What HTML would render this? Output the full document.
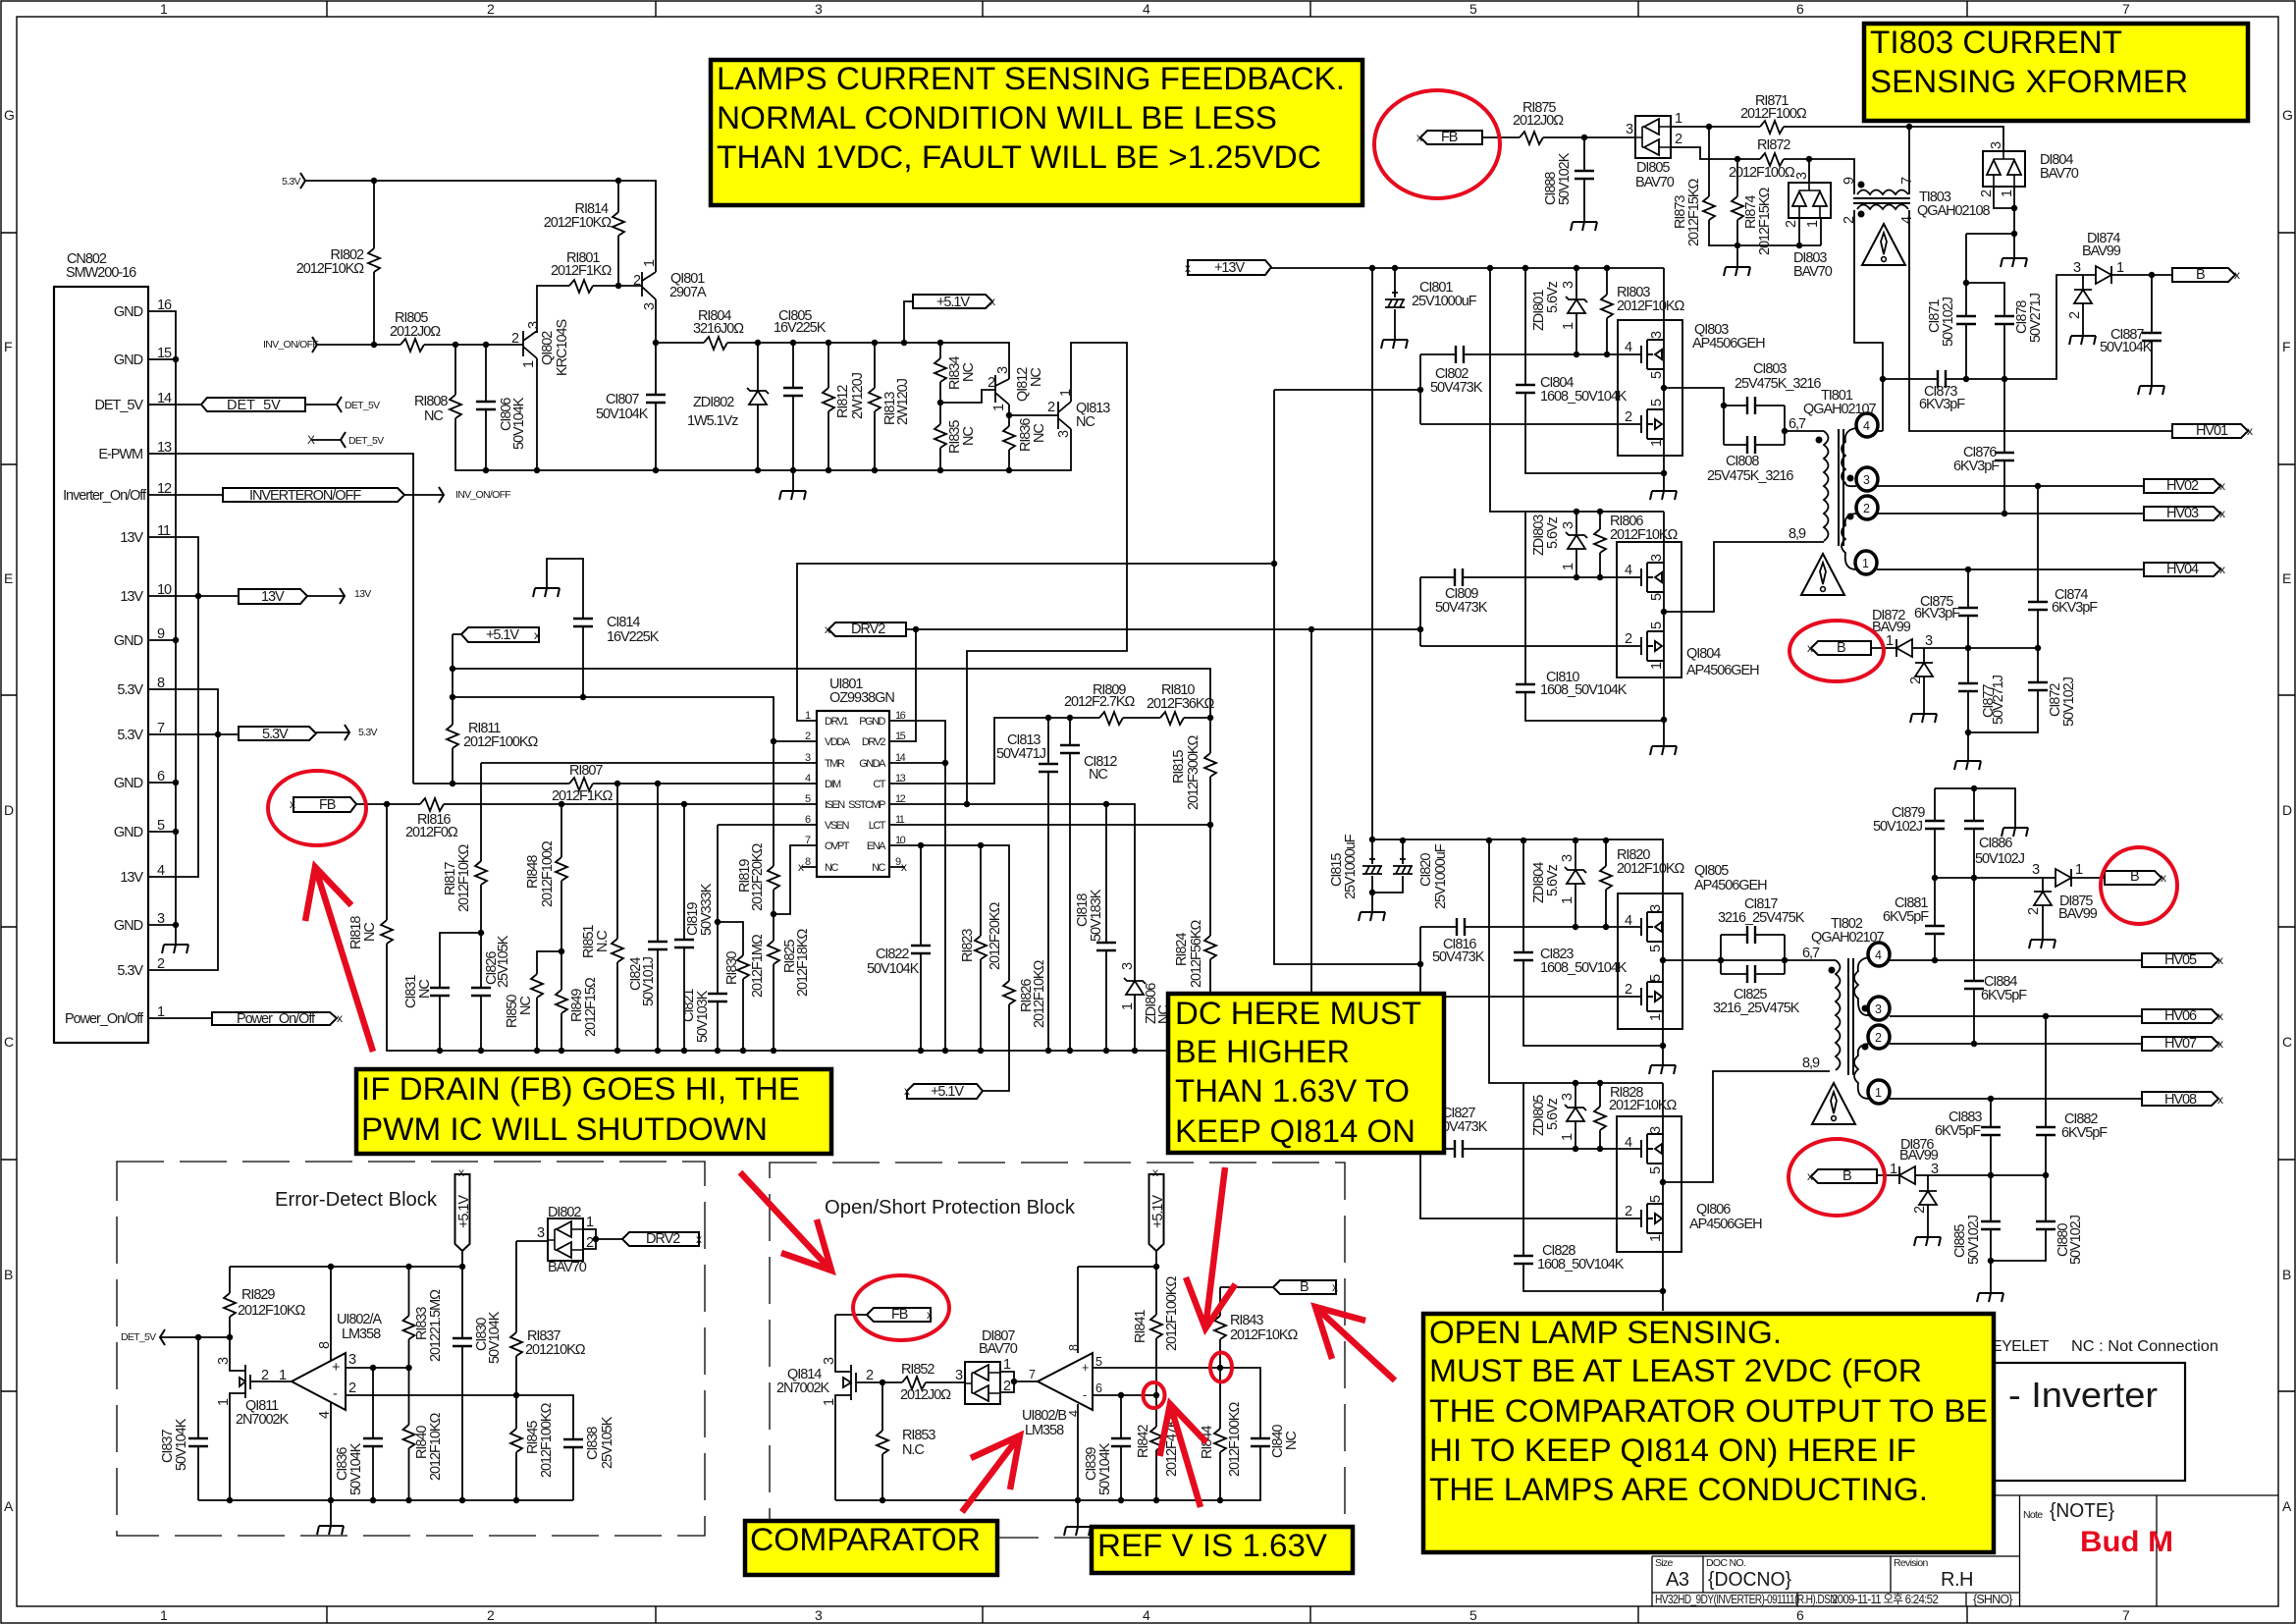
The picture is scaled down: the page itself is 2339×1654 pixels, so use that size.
<!DOCTYPE html>
<html><head><meta charset="utf-8"><title>Inverter schematic</title>
<style>
html,body{margin:0;padding:0;background:#fff}
svg{display:block}
text{font-family:"Liberation Sans","Noto Sans CJK KR",sans-serif;font-size:14.5px;letter-spacing:-1.05px;fill:#181818}
.s{font-size:10.5px;letter-spacing:-.7px}
.p{font-size:12.5px;letter-spacing:-.8px}
.i{font-size:11px;letter-spacing:-1.5px}
.n{font-size:14px;letter-spacing:-.3px}
.e{text-anchor:end}
.b{font-size:32px;letter-spacing:0;fill:#000}
.y{fill:#ff0;stroke:#000;stroke-width:4.5}
.f{fill:#fff;stroke:#000;stroke-width:2}
.w{fill:none;stroke:#000;stroke-width:1.8}
.red{fill:none;stroke:#e60a1e;stroke-width:4}
.arr{fill:none;stroke:#e60a1e;stroke-width:6.5}
.x{font-size:12px;letter-spacing:0}
</style></head><body>
<svg xmlns="http://www.w3.org/2000/svg" width="2339" height="1654" viewBox="0 0 2339 1654">
<defs>
<g id="r"><path d="M0-12V12" stroke="#fff" stroke-width="4"/><path d="M0-12L-6-7 6-2-6 3 6 8 0 12" fill="none" stroke="#000" stroke-width="1.8"/></g>
<g id="rh"><path d="M-12 0H12" stroke="#fff" stroke-width="4"/><path d="M-12 0L-7-6-2 7 3-6 8 7 12 0" fill="none" stroke="#000" stroke-width="1.8"/></g>
<g id="c"><path d="M0-3V3" stroke="#fff" stroke-width="4"/><path d="M-10-4H10M-10 4H10" stroke="#000" stroke-width="2.4"/></g>
<g id="ch"><path d="M-3 0H3" stroke="#fff" stroke-width="4"/><path d="M-4-9V9M4-9V9" stroke="#000" stroke-width="2.4"/></g>
<path id="g" d="M-12 0H13M-12 0L-14 9M0 0L-2 9M13 0L11 9" fill="none" stroke="#000" stroke-width="2"/>
<g id="e"><path d="M0-6V6" stroke="#fff" stroke-width="4"/><path d="M-10-4H10M-10 4H10M-7 4L-3-4M-1 4L3-4M5 4L9-4M0-14V-8M-3-11H3" fill="none" stroke="#000" stroke-width="1.8"/></g>
<g id="z"><path d="M0-7V7" stroke="#fff" stroke-width="4"/><path d="M-9 7H9L0-7ZM-11-10L-8-7H8L11-4" fill="#fff" stroke="#000" stroke-width="1.8"/></g>
<g id="du"><path d="M-9 7H9L0-7ZM-9-7H9" fill="#fff" stroke="#000" stroke-width="1.8"/></g>
<g id="dr"><path d="M-8-9V9L8 0ZM8-9V9" fill="#fff" stroke="#000" stroke-width="1.8"/></g>
<g id="dl"><path d="M8-9V9L-8 0ZM-8-9V9" fill="#fff" stroke="#000" stroke-width="1.8"/></g>
<g id="dbox"><path d="M0 0H36V43H0Z" fill="#fff" stroke="#000" stroke-width="2"/><path d="M0 22H7M7 11V32M7 11H36M7 32H36" fill="none" stroke="#000" stroke-width="1.6"/><path d="M24 3L9 11 24 19ZM24 24L9 32 24 40Z" fill="#fff" stroke="#000" stroke-width="1.8"/></g>
<g id="vbox"><path d="M0 0H43V36H0Z" fill="#fff" stroke="#000" stroke-width="2"/><path d="M21 0V8M11 8H32M11 8V36M32 8V36" fill="none" stroke="#000" stroke-width="1.6"/><path d="M4 24H18L11 9ZM25 24H39L32 9Z" fill="#fff" stroke="#000" stroke-width="1.8"/></g>
<path id="m1" d="M0-9V9M6-15V15M6-15H23M6 15H23M6 0H12M14 0L21-5V5Z" fill="none" stroke="#000" stroke-width="1.9"/>
<path id="m2" d="M0-9V9M6-15V15M6-15H23M6 15H23M6 0H12M21 0L14-5V5Z" fill="none" stroke="#000" stroke-width="1.9"/>
<path id="ca" d="M-5-8L0 0-5 8" fill="none" stroke="#000" stroke-width="2"/>
<path id="cb" d="M5-8L0 0 5 8" fill="none" stroke="#000" stroke-width="2"/>
<g id="warn"><path d="M0 0L22 42H-22Z" fill="#fff" stroke="#000" stroke-width="2"/><path d="M0 9L-3 18 0 31 3 18Z" fill="#fff" stroke="#000" stroke-width="1.8"/><circle cy="36" r="2.4" fill="#fff" stroke="#000" stroke-width="1.6"/></g>
</defs>

<!-- sheet frame -->
<g fill="none" stroke="#000" stroke-width="1.4">
<rect x="1" y="1" width="2337" height="1652"/>
<rect x="17" y="17" width="2304" height="1619"/>
<path d="M333 1V17M668 1V17M1001 1V17M1335 1V17M1669 1V17M2004 1V17M333 1636V1653M668 1636V1653M1001 1636V1653M1335 1636V1653M1669 1636V1653M2004 1636V1653M1 237H17M1 473H17M1 708H17M1 944H17M1 1181H17M1 1417H17M2321 237H2338M2321 473H2338M2321 708H2338M2321 944H2338M2321 1181H2338M2321 1417H2338"/>
</g>
<g class="n">
<text class="n" x="163" y="14">1</text><text class="n" x="496" y="14">2</text><text class="n" x="830" y="14">3</text><text class="n" x="1164" y="14">4</text><text class="n" x="1497" y="14">5</text><text class="n" x="1830" y="14">6</text><text class="n" x="2162" y="14">7</text>
<text class="n" x="163" y="1650">1</text><text class="n" x="496" y="1650">2</text><text class="n" x="830" y="1650">3</text><text class="n" x="1164" y="1650">4</text><text class="n" x="1497" y="1650">5</text><text class="n" x="1830" y="1650">6</text><text class="n" x="2162" y="1650">7</text>
<text class="n" x="4" y="122">G</text><text class="n" x="4" y="358">F</text><text class="n" x="4" y="594">E</text><text class="n" x="4" y="830">D</text><text class="n" x="4" y="1066">C</text><text class="n" x="4" y="1303">B</text><text class="n" x="4" y="1539">A</text>
<text class="n" x="2325" y="122">G</text><text class="n" x="2325" y="358">F</text><text class="n" x="2325" y="594">E</text><text class="n" x="2325" y="830">D</text><text class="n" x="2325" y="1066">C</text><text class="n" x="2325" y="1303">B</text><text class="n" x="2325" y="1539">A</text>
</g>

<!-- title block (mostly under the OPEN box) -->
<g fill="none" stroke="#000">
<rect x="1600" y="1388" width="626" height="120" stroke-width="2.2"/>
<path stroke-width="1.3" d="M1683 1523H2321M2057.500 1523V1636M2197 1523V1636M1683 1585H2057M1683 1622H2057M1683 1585V1636M1735 1585V1622M1926 1585V1622M1831 1622V1636M2003 1622V1636"/>
</g>
<text x="2029" y="1376" style="font-size:16px;letter-spacing:-.6px">EYELET</text>
<text x="2110" y="1376" textLength="150" lengthAdjust="spacingAndGlyphs" style="font-size:16px;letter-spacing:0">NC : Not Connection</text>
<text x="2046" y="1433" textLength="152" lengthAdjust="spacingAndGlyphs" style="font-size:36px;letter-spacing:0">- Inverter</text>
<text class="s" x="1686" y="1595">Size</text><text x="1697" y="1615" style="font-size:20px;letter-spacing:-.5px">A3</text>
<text class="s" x="1738" y="1595">DOC NO.</text><text x="1740" y="1615" textLength="85" lengthAdjust="spacingAndGlyphs" style="font-size:20px;letter-spacing:0">{DOCNO}</text>
<text class="s" x="1929" y="1595">Revision</text><text x="1977" y="1615" style="font-size:20px;letter-spacing:-.5px">R.H</text>
<text class="p" x="1686" y="1633" textLength="185" lengthAdjust="spacingAndGlyphs">HV32HD_9DY(INVERTER)-091111(R.H).DSN</text>
<text class="p" x="1866" y="1633" textLength="108" lengthAdjust="spacingAndGlyphs">2009-11-11 오후 6:24:52</text>
<text class="p" x="2010" y="1633">{SHNO}</text>
<text class="s" x="2061" y="1546">Note</text><text x="2088" y="1545" textLength="66" lengthAdjust="spacingAndGlyphs" style="font-size:20px;letter-spacing:0">{NOTE}</text>
<text x="2119" y="1580" textLength="95" lengthAdjust="spacingAndGlyphs" style="font-size:30px;font-weight:bold;letter-spacing:0;fill:#e60a1e">Bud M</text>

<!-- dashed blocks -->
<g fill="none" stroke="#000" stroke-width="1.3" stroke-dasharray="48 16">
<rect x="119" y="1183" width="599" height="381"/>
<rect x="784" y="1184" width="586" height="382"/>
</g>

<!-- wires -->
<path class="w" d="M311 184H668V277M381 184V351M323 351H533M630 184V291M547 339V291H654M464 351V479H1091V437M495 351V479M547 365V479M668 305V479M668 349H1028V386M772 349V479M808 349V500M844 349V479M891 349V479M958 349V479M921 349V307H930M958 410H1000V397H1014M1028 412V479M1028 423H1078M1091 409V349H1148V663H985V819
M533 337V363M533 347L547 337M533 353L547 365M654 277V302M654 286L668 277M654 292L668 305M1014 382V410M1014 393L1028 386M1014 400L1028 412M1078 409V437M1078 420L1091 409M1078 426L1091 437
M151 317H179V942M151 366H179M151 412H205M311 412H343M317 448H347M151 462H421V798M151 504H227M412 504H452M151 547H202V893H151M151 607H243M313 607H351M151 652H179M151 702H222V988H151M151 748H243M322 746H356M151 797H179M151 847H179M151 942H179V962M151 1037H216
M461 646V798M470 646H461M421 798H832M461 710H788V1070M461 681H1233V1111M490 777H832M490 777V1070M490 950H448V1070M363 819H832M394 819V1070H1190M572 819V1070M572 969H547V1070M629 798V1070M670 798V1070M697 819V1070M731 840V1070M731 840H832M731 939H757V1070M788 755H832M788 931H805V861H832M594 710V569H557V599
M832 734H812V574H1298M906 734H963V1070M906 755H933V641M923 641H1447M906 777H963M906 798H1013V731H1233M906 819H1156V1070M906 840H1233M906 861H1028V1111H1001M938 861V1070M999 861V1070M1068 731V1070M1090 731V1070M1127 819V1070M817 883H832M906 883H922
M1298 397V982H1447M1447 361V432M1298 397H1447M1447 361H1672M1447 432H1672M1295 273H1695M1398 273V855H1695M1421 273V346M1518 273V521H1695M1554 273V482H1695M1554 521V734H1695M1695 273V500M1695 521V760M1606 273V361M1637 273V361M1606 521V588M1630 521V588M1447 588H1672M1447 658H1672M1447 588V658M1336 641V1170H1672M1447 944V1015H1672M1447 944H1672M1447 1170V1241H1672M1398 855V929M1429 856V909H1398M1517 856V1103H1694M1552 856V1065H1694M1694 856V1085M1605 856V944M1636 856V944M1605 1103V1170M1630 1103V1170M1694 1103V1335M1552 1103V1315H1694
M1695 395H1756V453M1756 413H1818M1756 453H1818M1818 413V453M1818 439H1858M1695 623H1746V552H1858M1694 978H1870M1753 952V992M1753 952H1818M1753 992H1818M1818 952V992M1694 1204H1745V1091H1864
M1510 140H1666M1614 140V226M1702 129H2041V154M1702 150H1732V162H1889V198M1889 214V349H1918V439M1945 129V198M1945 214V439H2213M1741 129V250H1855M1770 162V272M1843 162V186M1833 222V250M1855 222V250M2031 190V212H2052M2052 190V263M2003 238H2052M2003 238V386M2003 288H2042V523M1918 386H2095V280H2135M2151 280H2213M2122 280V342M2192 280V393M1912 439H1918M1912 495H2184M1912 523H2184M1912 580H2184M2076 495V746H2005M2005 580V775M1906 660H1932M1948 660H2076M1960 660V727
M1925 978H2182M1925 1035H2182M1925 1063H2182M1925 1119H2182M1971 803V978M1971 803H2053V843M2011 803V1063M1971 894H2094M2110 894H2144M2081 894V957M2084 1035V1284H2028M2028 1119V1317M1912 1197H1935M1951 1197H2084M1964 1197V1260
M234 1290H471M471 1274V1528M202 1528H584M234 1290V1396H250M250 1419H234V1528M163 1362H234M202 1362V1528M255 1407H297M337 1290V1386M337 1429V1554M352 1393H416M380 1393V1528M416.500 1290V1528M352 1421H584V1528M526 1264V1528M526 1264H558M593 1252H607V1272H593M607 1262H634M250 1390V1424M255 1400V1415M250 1407L244 1403V1412Z
M1098 1290H1178M1178 1274V1528M1098 1290V1378M1098 1430V1555M851 1528H1284V1393H1113M1113 1421H1178M1142 1421V1528M1243 1311V1528M1243 1311H1297M851 1339H883M851 1339V1397H867M867 1421H851V1528M872 1408H983M899 1408V1528M1019 1397H1033V1418H1019M1033 1407H1057M867 1390V1426M872 1398V1418M867 1408L859 1403V1413Z"/>

<!-- coils / core -->
<path class="w" d="M1892 198q6-9 13 0q6-9 13 0q6-9 13 0q6-9 13 0M1892 213q6-9 13 0q6-9 13 0q6-9 13 0q6-9 13 0M1858 439q9 7 0 14q9 7 0 14q9 7 0 14q9 7 0 14q9 7 0 14q9 7 0 14q9 7 0 14q9 7 0 14M1891 436Q1878 438 1880 450q-8 7 0 14q-8 7 0 14q-8 7 0 14Q1880 496 1891 495M1891 523Q1878 524 1880 535q-8 7 0 14q-8 7 0 14Q1878 580 1891 580M1870 978q9 7 0 14q9 7 0 14q9 7 0 14q9 7 0 14q9 7 0 14q9 7 0 14q9 7 0 14q9 7 0 14M1904 975Q1891 977 1893 989q-8 7 0 14q-8 7 0 14Q1892 1035 1904 1034M1904 1063Q1891 1064 1893 1075q-8 7 0 14q-8 7 0 14Q1891 1119 1904 1119"/>
<path stroke="#000" stroke-width="2" d="M1888 202H1946M1888 207H1946M1873 437V556M1878 437V556M1883 976V1095M1888 976V1095"/>
<path stroke="#000" stroke-width="7" stroke-linecap="round" d="M1896 188h0M1896 218h0M1853 448h0M1885 487h0M1885 526h0M1866 988h0M1900 1027h0M1900 1066h0"/>

<!-- component blocks -->
<rect x="55" y="292" width="96" height="770" fill="none" stroke="#000" stroke-width="2.2"/>
<rect x="832" y="724" width="74" height="169" fill="none" stroke="#000" stroke-width="2.2"/>
<g fill="none" stroke="#000" stroke-width="1.9">
<rect x="1648" y="326" width="66" height="138"/><rect x="1647" y="552" width="66" height="138"/><rect x="1648" y="910" width="66" height="138"/><rect x="1647" y="1137" width="66" height="138"/>
</g>
<use href="#m1" x="1672" y="361"/><use href="#m2" x="1672" y="432"/><use href="#m1" x="1672" y="588"/><use href="#m2" x="1672" y="658"/>
<use href="#m1" x="1672" y="944"/><use href="#m2" x="1672" y="1015"/><use href="#m1" x="1672" y="1170"/><use href="#m2" x="1672" y="1241"/>
<use href="#dbox" x="1666" y="118"/><use href="#vbox" x="1822" y="186"/><use href="#vbox" x="2020" y="154"/><use href="#dbox" x="558" y="1241"/><use href="#dbox" x="983" y="1387"/>
<path d="M297 1407L352 1378V1436ZM1057 1407L1113 1378V1436Z" fill="#fff" stroke="#000" stroke-width="2"/>
<use href="#warn" x="1919" y="228"/><use href="#warn" x="1857" y="564"/><use href="#warn" x="1868" y="1103"/>

<!-- resistors -->
<g>
<use href="#r" x="381" y="265"/><use href="#r" x="630" y="228"/><use href="#r" x="464" y="414"/><use href="#r" x="844" y="407"/><use href="#r" x="891" y="407"/><use href="#r" x="958" y="377"/><use href="#r" x="958" y="444"/><use href="#r" x="1028" y="446"/><use href="#r" x="461" y="750"/><use href="#r" x="394" y="949"/><use href="#r" x="490" y="889"/><use href="#r" x="572" y="885"/><use href="#r" x="572" y="1020"/><use href="#r" x="547" y="1004"/><use href="#r" x="629" y="968"/><use href="#r" x="757" y="985"/><use href="#r" x="788" y="894"/><use href="#r" x="788" y="970"/><use href="#r" x="999" y="965"/><use href="#r" x="1028" y="1011"/><use href="#r" x="1233" y="779"/><use href="#r" x="1233" y="965"/><use href="#r" x="1637" y="312"/><use href="#r" x="1630" y="551"/><use href="#r" x="1636" y="894"/><use href="#r" x="1630" y="1139"/><use href="#r" x="1741" y="212"/><use href="#r" x="1770" y="212"/><use href="#r" x="234" y="1329"/><use href="#r" x="416.500" y="1352"/><use href="#r" x="416.500" y="1463"/><use href="#r" x="526" y="1369"/><use href="#r" x="526" y="1467"/><use href="#r" x="899" y="1469"/><use href="#r" x="1178" y="1351"/><use href="#r" x="1178" y="1465"/><use href="#r" x="1243" y="1352"/><use href="#r" x="1243" y="1467"/>
<use href="#rh" x="420" y="351"/><use href="#rh" x="592" y="291"/><use href="#rh" x="729" y="349"/><use href="#rh" x="440" y="819"/><use href="#rh" x="592" y="798"/><use href="#rh" x="1132" y="731"/><use href="#rh" x="1194" y="731"/><use href="#rh" x="1560" y="140"/><use href="#rh" x="1805" y="129"/><use href="#rh" x="1805" y="162"/><use href="#rh" x="931" y="1408"/>
<!-- capacitors -->
<use href="#c" x="495" y="413"/><use href="#c" x="668" y="406"/><use href="#c" x="808" y="399"/><use href="#c" x="594" y="634"/><use href="#c" x="448" y="1010"/><use href="#c" x="490" y="1010"/><use href="#c" x="670" y="963"/><use href="#c" x="697" y="961"/><use href="#c" x="731" y="1016"/><use href="#c" x="938" y="967"/><use href="#c" x="1068" y="782"/><use href="#c" x="1090" y="763"/><use href="#c" x="1127" y="964"/><use href="#c" x="1614" y="178"/><use href="#c" x="1554" y="396"/><use href="#c" x="1554" y="701"/><use href="#c" x="1552" y="974"/><use href="#c" x="1552" y="1283"/><use href="#c" x="2003" y="326"/><use href="#c" x="2042" y="326"/><use href="#c" x="2042" y="465"/><use href="#c" x="2192" y="343"/><use href="#c" x="2005" y="623"/><use href="#c" x="2005" y="700"/><use href="#c" x="2076" y="617"/><use href="#c" x="2076" y="699"/><use href="#c" x="1971" y="840"/><use href="#c" x="2011" y="840"/><use href="#c" x="1971" y="947"/><use href="#c" x="2011" y="1003"/><use href="#c" x="2028" y="1152"/><use href="#c" x="2084" y="1152"/><use href="#c" x="2028" y="1248"/><use href="#c" x="2084" y="1248"/><use href="#c" x="202" y="1469"/><use href="#c" x="380" y="1469"/><use href="#c" x="471" y="1367"/><use href="#c" x="584" y="1470"/><use href="#c" x="1142" y="1469"/><use href="#c" x="1284" y="1469"/>
<use href="#ch" x="1487" y="361"/><use href="#ch" x="1486" y="588"/><use href="#ch" x="1488" y="944"/><use href="#ch" x="1486" y="1170"/><use href="#ch" x="1784" y="413"/><use href="#ch" x="1784" y="453"/><use href="#ch" x="1978" y="386"/><use href="#ch" x="1784" y="952"/><use href="#ch" x="1784" y="992"/>
<use href="#e" x="1421" y="309"/><use href="#e" x="1398" y="886"/><use href="#e" x="1429" y="886"/>
<!-- grounds -->
<use href="#g" x="179" y="962"/><use href="#g" x="557" y="599"/><use href="#g" x="808" y="500"/><use href="#g" x="1421" y="346"/><use href="#g" x="1614" y="226"/><use href="#g" x="1770" y="272"/><use href="#g" x="2052" y="263"/><use href="#g" x="1695" y="500"/><use href="#g" x="1695" y="760"/><use href="#g" x="1398" y="929"/><use href="#g" x="1694" y="1085"/><use href="#g" x="2122" y="342"/><use href="#g" x="2192" y="393"/><use href="#g" x="1960" y="727"/><use href="#g" x="2005" y="775"/><use href="#g" x="2053" y="843"/><use href="#g" x="2081" y="957"/><use href="#g" x="1964" y="1260"/><use href="#g" x="2028" y="1317"/><use href="#g" x="337" y="1554"/><use href="#g" x="1098" y="1555"/>
<!-- diodes -->
<use href="#z" x="772" y="405"/><use href="#z" x="1606" y="312"/><use href="#z" x="1606" y="552"/><use href="#z" x="1605" y="893"/><use href="#z" x="1605" y="1135"/><use href="#z" x="1156" y="1006"/>
<use href="#du" x="2122" y="302"/><use href="#du" x="1960" y="682"/><use href="#du" x="2081" y="915"/><use href="#du" x="1964" y="1220"/>
<use href="#dr" x="2143" y="280"/><use href="#dr" x="2102" y="894"/><use href="#dl" x="1940" y="660"/><use href="#dl" x="1943" y="1197"/>
<!-- chevrons -->
<use href="#ca" x="311" y="184"/><use href="#ca" x="323" y="351"/><use href="#cb" x="343" y="412"/><use href="#cb" x="347" y="448"/><use href="#ca" x="452" y="504"/><use href="#ca" x="351" y="607"/><use href="#ca" x="356" y="746"/><use href="#cb" x="163" y="1362"/>
</g>

<!-- junction dots -->
<path fill="none" stroke="#000" stroke-width="6.500" stroke-linecap="round" d="M381 184h0M630 184h0M381 351h0M464 351h0M495 351h0M630 291h0M668 349h0M495 479h0M547 479h0M668 479h0M772 479h0M808 479h0M844 479h0M891 479h0M958 479h0M1028 479h0M772 349h0M808 349h0M844 349h0M891 349h0M921 349h0M958 349h0M958 410h0M1028 423h0
M179 366h0M202 607h0M179 652h0M222 748h0M179 797h0M179 847h0M179 942h0M461 681h0M461 710h0M594 710h0M461 798h0M629 798h0M670 798h0M394 819h0M572 819h0M697 819h0M490 950h0M572 969h0M731 939h0M788 931h0M788 755h0
M448 1070h0M490 1070h0M547 1070h0M572 1070h0M629 1070h0M670 1070h0M697 1070h0M731 1070h0M757 1070h0M788 1070h0M938 1070h0M963 1070h0M999 1070h0M1068 1070h0M1090 1070h0M1127 1070h0M1156 1070h0
M933 641h0M1336 641h0M1447 641h0M985 819h0M1127 819h0M963 777h0M938 861h0M999 861h0M1068 731h0M1090 731h0M1233 731h0M1233 840h0M1298 574h0M1447 397h0M1447 982h0
M1398 273h0M1421 273h0M1518 273h0M1554 273h0M1606 273h0M1637 273h0M1606 361h0M1637 361h0M1606 521h0M1630 521h0M1606 588h0M1630 588h0M1695 395h0M1695 482h0M1695 623h0M1695 733h0M1756 413h0M1818 439h0
M1398 855h0M1429 856h0M1517 856h0M1552 856h0M1605 856h0M1636 856h0M1398 909h0M1605 944h0M1636 944h0M1694 978h0M1753 978h0M1818 978h0M1694 1065h0M1605 1103h0M1630 1103h0M1605 1170h0M1630 1170h0M1694 1204h0M1694 1315h0M1447 1170h0
M1614 140h0M1741 129h0M1945 129h0M1770 162h0M1843 162h0M1770 250h0M1833 250h0M2052 212h0M2052 238h0M2003 288h0M1918 386h0M2003 386h0M2042 386h0M2192 280h0M2076 495h0M2042 523h0M2005 580h0M2005 660h0M2076 660h0M2005 746h0
M1971 978h0M2084 1035h0M2011 1063h0M2028 1119h0M2011 803h0M1971 894h0M2011 894h0M2028 1197h0M2084 1197h0M2028 1284h0
M337 1290h0M416.500 1290h0M471 1290h0M234 1362h0M202 1362h0M380 1393h0M416.500 1393h0M526 1421h0M234 1528h0M337 1528h0M380 1528h0M416.500 1528h0M471 1528h0M526 1528h0M607 1262h0
M1178 1290h0M1243 1393h0M1142 1421h0M1178 1421h0M899 1408h0M1033 1407h0M899 1528h0M1098 1528h0M1142 1528h0M1178 1528h0M1243 1528h0"/>

<!-- numbered terminals -->
<g fill="#fff" stroke="#000" stroke-width="3.500">
<ellipse cx="1902" cy="433" rx="11" ry="12"/><ellipse cx="1902" cy="488" rx="11" ry="12"/><ellipse cx="1902" cy="517" rx="11" ry="12"/><ellipse cx="1901" cy="573" rx="11" ry="12"/>
<ellipse cx="1914" cy="972" rx="11" ry="12"/><ellipse cx="1914" cy="1027" rx="11" ry="12"/><ellipse cx="1914" cy="1056" rx="11" ry="12"/><ellipse cx="1914" cy="1112" rx="11" ry="12"/>
</g>
<g class="p"><text class="p" x="1898" y="438">4</text><text class="p" x="1898" y="493">3</text><text class="p" x="1898" y="522">2</text><text class="p" x="1897" y="578">1</text><text class="p" x="1910" y="977">4</text><text class="p" x="1910" y="1032">3</text><text class="p" x="1910" y="1061">2</text><text class="p" x="1910" y="1117">1</text></g>

<!-- flags -->
<path class="f" d="M205 412L211 405H311V419H211ZM227 497H405L412 504 405 511H227ZM243 600H306L313 607 306 615H243ZM243 740H315L322 747 315 754H243ZM216 1031H336L343 1037 336 1044H216ZM299 812H357L363 819 357 827H299ZM470 646L477 639H549V654H477ZM930 300H1004L1011 307 1004 314H930ZM844 641L851 634H923V648H851ZM1210 265H1289L1295 272 1289 280H1210ZM1447 140L1454 133H1510V147H1454ZM2213 273H2270L2277 280 2270 287H2213ZM2213 432H2283L2290 439 2283 446H2213ZM2184 488H2255L2262 495 2255 502H2184ZM2184 516H2255L2262 523 2255 530H2184ZM2184 573H2255L2262 580 2255 587H2184ZM1845 660L1852 653H1906V667H1852ZM2144 887H2195L2202 894 2195 901H2144ZM2182 971H2253L2260 978 2253 985H2182ZM2182 1028H2253L2260 1035 2253 1042H2182ZM2182 1056H2253L2260 1063 2253 1070H2182ZM2182 1112H2253L2260 1119 2253 1126H2182ZM1845 1198L1852 1191H1912V1205H1852ZM924 1111L931 1104H995L1001 1111 995 1119H924ZM463.500 1196H478.500V1267L471 1274 463.500 1267ZM1170.500 1196H1185.500V1267L1178 1274 1170.500 1267ZM634 1262L641 1255H712V1269H641ZM883 1339L890 1332H948V1346H890ZM1297 1311L1304 1304H1361V1318H1304Z"/>

<!-- labels -->
<text x="68" y="268">CN802</text><text x="67" y="282">SMW200-16</text>
<g class="e">
<text class="e" x="145" y="322">GND</text><text class="e" x="145" y="371">GND</text><text class="e" x="145" y="417">DET_5V</text><text class="e" x="145" y="467">E-PWM</text><text class="e" x="148" y="509">Inverter_On/Off</text><text class="e" x="145" y="552">13V</text><text class="e" x="145" y="612">13V</text><text class="e" x="145" y="657">GND</text><text class="e" x="145" y="707">5.3V</text><text class="e" x="145" y="753">5.3V</text><text class="e" x="145" y="802">GND</text><text class="e" x="145" y="852">GND</text><text class="e" x="145" y="898">13V</text><text class="e" x="145" y="947">GND</text><text class="e" x="145" y="993">5.3V</text><text class="e" x="145" y="1042">Power_On/Off</text>
</g>
<text x="160" y="315">16</text><text x="160" y="364">15</text><text x="160" y="410">14</text><text x="160" y="460">13</text><text x="160" y="502">12</text><text x="160" y="545">11</text><text x="160" y="605">10</text><text x="160" y="650">9</text><text x="160" y="700">8</text><text x="160" y="746">7</text><text x="160" y="795">6</text><text x="160" y="845">5</text><text x="160" y="891">4</text><text x="160" y="940">3</text><text x="160" y="986">2</text><text x="160" y="1035">1</text>
<text x="231" y="417" style="letter-spacing:0">DET_5V</text><text class="s" x="351" y="416">DET_5V</text><text class="s" x="355" y="452">DET_5V</text><text class="x" x="313" y="452">X</text>
<text x="254" y="509">INVERTERON/OFF</text><text class="s" x="464" y="507">INV_ON/OFF</text>
<text x="266" y="612">13V</text><text class="s" x="361" y="608">13V</text><text x="267" y="752">5.3V</text><text class="s" x="365" y="749">5.3V</text>
<text x="241" y="1042">Power_On/Off</text><text class="x" x="343" y="1041">x</text>
<text class="s" x="287" y="188">5.3V</text><text class="s" x="268" y="354">INV_ON/OFF</text>
<text class="e" x="370" y="264">RI802</text><text class="e" x="370" y="278">2012F10KΩ</text>
<text class="e" x="619" y="217">RI814</text><text class="e" x="622" y="231">2012F10KΩ</text>
<text x="577" y="267">RI801</text><text x="561" y="280">2012F1KΩ</text>
<text x="683" y="288">QI801</text><text x="682" y="302">2907A</text>
<text x="402" y="328">RI805</text><text x="397" y="342">2012J0Ω</text>
<text x="422" y="413">RI808</text><text x="432" y="428">NC</text>
<text transform="translate(520 439) rotate(-90)">CI806</text><text transform="translate(533 458) rotate(-90)">50V104K</text>
<text transform="translate(562 372) rotate(-90)">QI802</text><text transform="translate(577 383) rotate(-90)">KRC104S</text>
<text x="521" y="349">2</text><text transform="translate(548 335) rotate(-90)">3</text><text transform="translate(543 375) rotate(-90)">1</text>
<text x="645" y="290">2</text><text transform="translate(666 272) rotate(-90)">1</text><text transform="translate(666 316) rotate(-90)">3</text>
<text x="711" y="326">RI804</text><text x="706" y="339">3216J0Ω</text>
<text x="617" y="411">CI807</text><text x="607" y="426">50V104K</text>
<text x="706" y="414">ZDI802</text><text x="700" y="433">1W5.1Vz</text>
<text x="793" y="326">CI805</text><text x="788" y="338">16V225K</text>
<text transform="translate(863 426) rotate(-90)">RI812</text><text transform="translate(878 427) rotate(-90)">2W120J</text>
<text transform="translate(911 433) rotate(-90)">RI813</text><text transform="translate(924 433) rotate(-90)">2W120J</text>
<text transform="translate(977 397) rotate(-90)">RI834</text><text transform="translate(991 389) rotate(-90)">NC</text>
<text transform="translate(977 462) rotate(-90)">RI835</text><text transform="translate(991 454) rotate(-90)">NC</text>
<text transform="translate(1049 460) rotate(-90)">RI836</text><text transform="translate(1063 451) rotate(-90)">NC</text>
<text transform="translate(1046 409) rotate(-90)">QI812</text><text transform="translate(1060 394) rotate(-90)">NC</text>
<text transform="translate(1026 381) rotate(-90)">3</text><text x="1006" y="394">2</text><text transform="translate(1022 419) rotate(-90)">1</text>
<text x="1096" y="420">QI813</text><text x="1096" y="434">NC</text><text transform="translate(1090 404) rotate(-90)">1</text><text x="1067" y="419">2</text><text transform="translate(1088 446) rotate(-90)">3</text>
<text x="1237" y="277">+13V</text><text class="x" x="1207" y="277">x</text>
<text x="954" y="312">+5.1V</text><text class="x" x="1008" y="311">x</text>
<text x="1446" y="297">CI801</text><text x="1438" y="311">25V1000uF</text>
<text x="1462" y="385">CI802</text><text x="1457" y="399">50V473K</text>
<text x="618" y="638">CI814</text><text x="618" y="653">16V225K</text>
<text x="495" y="651">+5.1V</text><text class="x" x="544" y="651">x</text>
<text x="477" y="746">RI811</text><text x="472" y="760">2012F100KΩ</text>
<text x="580" y="789">RI807</text><text x="562" y="815">2012F1KΩ</text>
<text x="425" y="839">RI816</text><text x="413" y="852">2012F0Ω</text>
<text x="325" y="824">FB</text><text class="x" x="295" y="823">x</text>
<text transform="translate(367 967) rotate(-90)">RI818</text><text transform="translate(381 959) rotate(-90)">NC</text>
<text transform="translate(463 912) rotate(-90)">RI817</text><text transform="translate(477 929) rotate(-90)">2012F10KΩ</text>
<text transform="translate(547 905) rotate(-90)">RI848</text><text transform="translate(562 924) rotate(-90)">2012F100Ω</text>
<text transform="translate(505 1003) rotate(-90)">CI826</text><text transform="translate(517 1006) rotate(-90)">25V105K</text>
<text transform="translate(423 1027) rotate(-90)">CI831</text><text transform="translate(437 1017) rotate(-90)">NC</text>
<text transform="translate(526 1047) rotate(-90)">RI850</text><text transform="translate(540 1034) rotate(-90)">NC</text>
<text transform="translate(592 1041) rotate(-90)">RI849</text><text transform="translate(606 1056) rotate(-90)">2012F15Ω</text>
<text transform="translate(604 976) rotate(-90)">RI851</text><text transform="translate(618 970) rotate(-90)">N.C</text>
<text transform="translate(652 1009) rotate(-90)">CI824</text><text transform="translate(665 1025) rotate(-90)">50V101J</text>
<text transform="translate(710 953) rotate(-90)">CI819</text><text transform="translate(724 953) rotate(-90)">50V333K</text>
<text transform="translate(706 1041) rotate(-90)">CI821</text><text transform="translate(720 1062) rotate(-90)">50V103K</text>
<text transform="translate(750 1003) rotate(-90)">RI830</text><text transform="translate(776 1016) rotate(-90)">2012F1MΩ</text>
<text transform="translate(763 909) rotate(-90)">RI819</text><text transform="translate(776 928) rotate(-90)">2012F20KΩ</text>
<text transform="translate(809 991) rotate(-90)">RI825</text><text transform="translate(822 1015) rotate(-90)">2012F18KΩ</text>

<text x="867" y="645">DRV2</text><text class="x" x="840" y="645">x</text>
<text x="845" y="701">UI801</text><text x="845" y="715">OZ9938GN</text>
<g>
<text class="i" x="840" y="738">DRV1</text><text class="i" x="840" y="759">VDDA</text><text class="i" x="840" y="781">TMR</text><text class="i" x="840" y="802">DIM</text><text class="i" x="840" y="823">ISEN</text><text class="i" x="840" y="844">VSEN</text><text class="i" x="840" y="865">OVPT</text><text class="i" x="840" y="887">NC</text>
<text class="i e" x="901" y="738">PGND</text><text class="i e" x="901" y="759">DRV2</text><text class="i e" x="901" y="781">GNDA</text><text class="i e" x="901" y="802">CT</text><text class="i e" x="901" y="823">SSTCMP</text><text class="i e" x="901" y="844">LCT</text><text class="i e" x="901" y="865">ENA</text><text class="i e" x="901" y="887">NC</text>
<text class="i" x="820" y="732">1</text><text class="i" x="820" y="753">2</text><text class="i" x="820" y="775">3</text><text class="i" x="820" y="796">4</text><text class="i" x="820" y="817">5</text><text class="i" x="820" y="838">6</text><text class="i" x="820" y="859">7</text><text class="i" x="820" y="881">8</text>
<text class="i" x="912" y="732">16</text><text class="i" x="912" y="753">15</text><text class="i" x="912" y="775">14</text><text class="i" x="912" y="796">13</text><text class="i" x="912" y="817">12</text><text class="i" x="912" y="838">11</text><text class="i" x="912" y="859">10</text><text class="i" x="912" y="881">9</text>
</g>
<text class="x" x="813" y="887">x</text><text class="x" x="918" y="887">x</text>
<text x="1026" y="758">CI813</text><text x="1015" y="772">50V471J</text>
<text x="1104" y="780">CI812</text><text x="1109" y="793">NC</text>
<text x="1113" y="707">RI809</text><text x="1084" y="719">2012F2.7KΩ</text>
<text x="1183" y="707">RI810</text><text x="1168" y="721">2012F36KΩ</text>
<text transform="translate(1205 798) rotate(-90)">RI815</text><text transform="translate(1220 825) rotate(-90)">2012F300KΩ</text>
<text transform="translate(1208 984) rotate(-90)">RI824</text><text transform="translate(1223 1006) rotate(-90)">2012F56KΩ</text>
<text x="892" y="976">CI822</text><text x="883" y="991">50V104K</text>
<text transform="translate(990 980) rotate(-90)">RI823</text><text transform="translate(1018 988) rotate(-90)">2012F20KΩ</text>
<text transform="translate(1050 1031) rotate(-90)">RI826</text><text transform="translate(1063 1047) rotate(-90)">2012F10KΩ</text>
<text transform="translate(1107 944) rotate(-90)">CI818</text><text transform="translate(1121 959) rotate(-90)">50V183K</text>
<text transform="translate(1177 1043) rotate(-90)">ZDI806</text><text transform="translate(1190 1043) rotate(-90)">NC</text><text transform="translate(1153 988) rotate(-90)">3</text><text transform="translate(1153 1029) rotate(-90)">1</text>
<text transform="translate(1366 903) rotate(-90)">CI815</text><text transform="translate(1380 916) rotate(-90)">25V1000uF</text>
<text transform="translate(1457 903) rotate(-90)">CI820</text><text transform="translate(1472 926) rotate(-90)">25V1000uF</text>
<text x="1472" y="609">CI809</text><text x="1462" y="623">50V473K</text>
<text x="1470" y="966">CI816</text><text x="1459" y="979">50V473K</text>
<text x="1469" y="1138">CI827</text><text x="1462" y="1152">50V473K</text>
<text x="948" y="1116">+5.1V</text><text class="x" x="921" y="1115">x</text>

<text x="1551" y="114">RI875</text><text x="1541" y="127">2012J0Ω</text>
<text x="1468" y="144">FB</text><text class="x" x="1443" y="144">x</text>
<text transform="translate(1584 209) rotate(-90)">CI888</text><text transform="translate(1598 209) rotate(-90)">50V102K</text>
<text x="1667" y="175">DI805</text><text x="1666" y="190">BAV70</text><text x="1656" y="136">3</text><text x="1706" y="125">1</text><text x="1706" y="146">2</text>
<text x="1788" y="107">RI871</text><text x="1773" y="120">2012F100Ω</text>
<text x="1790" y="152">RI872</text><text x="1761" y="180">2012F100Ω</text>
<text transform="translate(1716 233) rotate(-90)">RI873</text><text transform="translate(1730 251) rotate(-90)">2012F15KΩ</text>
<text transform="translate(1788 233) rotate(-90)">RI874</text><text transform="translate(1802 260) rotate(-90)">2012F15KΩ</text>
<text x="1827" y="267">DI803</text><text x="1827" y="281">BAV70</text>
<text transform="translate(1840 183) rotate(-90)">3</text><text transform="translate(1829 232) rotate(-90)">2</text><text transform="translate(1851 232) rotate(-90)">1</text>
<text x="1955" y="205">TI803</text><text x="1953" y="219">QGAH02108</text>
<text transform="translate(1888 188) rotate(-90)">9</text><text transform="translate(1947 188) rotate(-90)">7</text><text transform="translate(1888 228) rotate(-90)">2</text><text transform="translate(1947 228) rotate(-90)">4</text>
<text x="2078" y="167">DI804</text><text x="2078" y="181">BAV70</text>
<text transform="translate(2038 152) rotate(-90)">3</text><text transform="translate(2028 201) rotate(-90)">2</text><text transform="translate(2049 201) rotate(-90)">1</text>
<text x="2126" y="247">DI874</text><text x="2121" y="260">BAV99</text><text x="2112" y="277">3</text><text x="2156" y="277">1</text><text transform="translate(2118 325) rotate(-90)">2</text>
<text transform="translate(1975 339) rotate(-90)">CI871</text><text transform="translate(1989 353) rotate(-90)">50V102J</text>
<text transform="translate(2064 340) rotate(-90)">CI878</text><text transform="translate(2078 349) rotate(-90)">50V271J</text>
<text x="2150" y="345">CI887</text><text x="2139" y="358">50V104K</text>
<text x="1960" y="403">CI873</text><text x="1955" y="416">6KV3pF</text>
<text x="2000" y="465">CI876</text><text x="1990" y="479">6KV3pF</text>
<text x="1786" y="380">CI803</text><text x="1767" y="395">25V475K_3216</text>
<text x="1758" y="474">CI808</text><text x="1739" y="489">25V475K_3216</text>
<text x="1855" y="407">TI801</text><text x="1837" y="421">QGAH02107</text>
<text x="1822" y="436">6,7</text><text x="1822" y="548">8,9</text>
<text x="1726" y="340">QI803</text><text x="1724" y="354">AP4506GEH</text>
<text x="1569" y="394">CI804</text><text x="1569" y="408">1608_50V104K</text>
<text transform="translate(1572 337) rotate(-90)">ZDI801</text><text transform="translate(1586 319) rotate(-90)">5.6Vz</text><text transform="translate(1602 294) rotate(-90)">3</text><text transform="translate(1602 336) rotate(-90)">1</text>
<text x="1647" y="302">RI803</text><text x="1647" y="316">2012F10KΩ</text>
<text x="1655" y="358">4</text><text x="1655" y="429">2</text><text transform="translate(1692 345) rotate(-90)">3</text><text transform="translate(1692 386) rotate(-90)">5</text><text transform="translate(1692 414) rotate(-90)">5</text><text transform="translate(1692 455) rotate(-90)">1</text>
<text x="2237" y="284">B</text><text x="2237" y="443">HV01</text><text x="2207" y="499">HV02</text><text x="2207" y="527">HV03</text><text x="2207" y="584">HV04</text>
<text class="x" x="2276" y="284">x</text><text class="x" x="2289" y="443">x</text><text class="x" x="2261" y="499">x</text><text class="x" x="2261" y="527">x</text><text class="x" x="2261" y="584">x</text>

<text x="1640" y="535">RI806</text><text x="1640" y="549">2012F10KΩ</text>
<text transform="translate(1572 566) rotate(-90)">ZDI803</text><text transform="translate(1586 559) rotate(-90)">5.6Vz</text><text transform="translate(1602 539) rotate(-90)">3</text><text transform="translate(1602 581) rotate(-90)">1</text>
<text x="1655" y="585">4</text><text x="1655" y="655">2</text><text transform="translate(1692 572) rotate(-90)">3</text><text transform="translate(1692 612) rotate(-90)">5</text><text transform="translate(1692 641) rotate(-90)">5</text><text transform="translate(1692 682) rotate(-90)">1</text>
<text x="1956" y="617">CI875</text><text x="1950" y="629">6KV3pF</text>
<text x="2093" y="610">CI874</text><text x="2090" y="623">6KV3pF</text>
<text x="1907" y="631">DI872</text><text x="1907" y="643">BAV99</text><text x="1921" y="657">1</text><text x="1961" y="657">3</text><text transform="translate(1956 697) rotate(-90)">2</text>
<text transform="translate(2030 731) rotate(-90)">CI877</text><text transform="translate(2040 738) rotate(-90)">50V271J</text>
<text transform="translate(2098 730) rotate(-90)">CI872</text><text transform="translate(2112 740) rotate(-90)">50V102J</text>
<text x="1718" y="670">QI804</text><text x="1718" y="687">AP4506GEH</text>
<text x="1575" y="694">CI810</text><text x="1569" y="707">1608_50V104K</text>
<text x="1871" y="664">B</text><text class="x" x="1841" y="664">x</text>

<text x="1726" y="891">QI805</text><text x="1726" y="906">AP4506GEH</text>
<text x="1647" y="875">RI820</text><text x="1647" y="889">2012F10KΩ</text>
<text transform="translate(1572 920) rotate(-90)">ZDI804</text><text transform="translate(1586 913) rotate(-90)">5.6Vz</text><text transform="translate(1601 878) rotate(-90)">3</text><text transform="translate(1601 921) rotate(-90)">1</text>
<text x="1655" y="942">4</text><text x="1655" y="1012">2</text><text transform="translate(1691 929) rotate(-90)">3</text><text transform="translate(1691 970) rotate(-90)">5</text><text transform="translate(1691 1000) rotate(-90)">5</text><text transform="translate(1691 1040) rotate(-90)">1</text>
<text x="1777" y="925">CI817</text><text x="1750" y="939">3216_25V475K</text>
<text x="1766" y="1017">CI825</text><text x="1745" y="1031">3216_25V475K</text>
<text x="1865" y="945">TI802</text><text x="1845" y="959">QGAH02107</text>
<text x="1836" y="975">6,7</text><text x="1836" y="1087">8,9</text>
<text x="1569" y="976">CI823</text><text x="1569" y="990">1608_50V104K</text>
<text x="1927" y="832">CI879</text><text x="1908" y="846">50V102J</text>
<text x="2016" y="863">CI886</text><text x="2012" y="879">50V102J</text>
<text x="1930" y="924">CI881</text><text x="1918" y="938">6KV5pF</text>
<text x="2021" y="1004">CI884</text><text x="2018" y="1018">6KV5pF</text>
<text x="2098" y="922">DI875</text><text x="2097" y="935">BAV99</text><text x="2070" y="890">3</text><text x="2114" y="890">1</text><text transform="translate(2076 932) rotate(-90)">2</text>
<text x="2170" y="897">B</text><text class="x" x="2201" y="898">x</text>
<text x="2205" y="982">HV05</text><text x="2205" y="1039">HV06</text><text x="2205" y="1067">HV07</text><text x="2205" y="1124">HV08</text>
<text class="x" x="2259" y="982">x</text><text class="x" x="2259" y="1039">x</text><text class="x" x="2259" y="1067">x</text><text class="x" x="2259" y="1124">x</text>

<text x="1640" y="1117">RI828</text><text x="1639" y="1130">2012F10KΩ</text>
<text transform="translate(1572 1157) rotate(-90)">ZDI805</text><text transform="translate(1586 1151) rotate(-90)">5.6Vz</text><text transform="translate(1601 1121) rotate(-90)">3</text><text transform="translate(1601 1162) rotate(-90)">1</text>
<text x="1655" y="1168">4</text><text x="1655" y="1238">2</text><text transform="translate(1691 1155) rotate(-90)">3</text><text transform="translate(1691 1196) rotate(-90)">5</text><text transform="translate(1691 1225) rotate(-90)">5</text><text transform="translate(1691 1265) rotate(-90)">1</text>
<text x="1728" y="1236">QI806</text><text x="1721" y="1251">AP4506GEH</text>
<text x="1571" y="1278">CI828</text><text x="1566" y="1292">1608_50V104K</text>
<text x="1985" y="1142">CI883</text><text x="1971" y="1156">6KV5pF</text>
<text x="2103" y="1144">CI882</text><text x="2100" y="1158">6KV5pF</text>
<text x="1936" y="1170">DI876</text><text x="1935" y="1181">BAV99</text><text x="1925" y="1195">1</text><text x="1967" y="1195">3</text><text transform="translate(1960 1236) rotate(-90)">2</text>
<text transform="translate(2001 1281) rotate(-90)">CI885</text><text transform="translate(2015 1288) rotate(-90)">50V102J</text>
<text transform="translate(2106 1280) rotate(-90)">CI880</text><text transform="translate(2119 1288) rotate(-90)">50V102J</text>
<text x="1877" y="1202">B</text><text class="x" x="1841" y="1202">x</text>

<!-- Error-Detect block labels -->
<text x="280" y="1228" textLength="165" lengthAdjust="spacingAndGlyphs" style="font-size:20px;letter-spacing:0">Error-Detect Block</text>
<text transform="translate(477 1251) rotate(-90)">+5.1V</text><text class="x" x="467" y="1198">x</text>
<text class="s" x="123" y="1365">DET_5V</text>
<text x="246" y="1323">RI829</text><text x="242" y="1339">2012F10KΩ</text>
<text x="343" y="1348">UI802/A</text><text x="348" y="1363">LM358</text>
<text transform="translate(434 1365) rotate(-90)">RI833</text><text transform="translate(448 1387) rotate(-90)">201221.5MΩ</text>
<text transform="translate(495 1376) rotate(-90)">CI830</text><text transform="translate(508 1389) rotate(-90)">50V104K</text>
<text x="537" y="1365">RI837</text><text x="535" y="1379">201210KΩ</text>
<text transform="translate(335 1374) rotate(-90)">8</text><text x="355" y="1389">3</text><text x="355" y="1418">2</text><text x="338" y="1397">+</text><text x="339" y="1424">-</text><text x="266" y="1405">2</text><text x="284" y="1405">1</text><text transform="translate(335 1445) rotate(-90)">4</text><text transform="translate(232 1390) rotate(-90)">3</text><text transform="translate(232 1432) rotate(-90)">1</text>
<text x="250" y="1436">QI811</text><text x="240" y="1450">2N7002K</text>
<text transform="translate(175 1490) rotate(-90)">CI837</text><text transform="translate(189 1498) rotate(-90)">50V104K</text>
<text transform="translate(353 1508) rotate(-90)">CI836</text><text transform="translate(367 1523) rotate(-90)">50V104K</text>
<text transform="translate(434 1486) rotate(-90)">RI840</text><text transform="translate(448 1508) rotate(-90)">2012F10KΩ</text>
<text transform="translate(547 1481) rotate(-90)">RI845</text><text transform="translate(561 1505) rotate(-90)">2012F100KΩ</text>
<text transform="translate(608 1487) rotate(-90)">CI838</text><text transform="translate(623 1496) rotate(-90)">25V105K</text>
<text x="558" y="1239">DI802</text><text x="558" y="1295">BAV70</text><text x="547" y="1260">3</text><text x="597" y="1249">1</text><text x="597" y="1270">2</text>
<text x="658" y="1266">DRV2</text><text class="x" x="709" y="1266">x</text>

<!-- Open/Short block labels -->
<text x="840" y="1236" textLength="255" lengthAdjust="spacingAndGlyphs" style="font-size:20px;letter-spacing:0">Open/Short Protection Block</text>
<text transform="translate(1184 1251) rotate(-90)">+5.1V</text><text class="x" x="1174" y="1198">x</text>
<text x="802" y="1404">QI814</text><text x="791" y="1418">2N7002K</text>
<text transform="translate(849 1390) rotate(-90)">3</text><text x="882" y="1405">2</text><text transform="translate(849 1432) rotate(-90)">1</text>
<text x="918" y="1399">RI852</text><text x="917" y="1425">2012J0Ω</text>
<text x="1000" y="1365">DI807</text><text x="997" y="1378">BAV70</text><text x="973" y="1405">3</text><text x="1022" y="1394">1</text><text x="1022" y="1416">2</text>
<text x="919" y="1466">RI853</text><text x="919" y="1481">N.C</text>
<text x="1041" y="1446">UI802/B</text><text x="1044" y="1461">LM358</text>
<text class="p" transform="translate(1098 1376) rotate(-90)">8</text><text class="p" x="1116" y="1391">5</text><text class="p" x="1116" y="1418">6</text><text class="p" x="1048" y="1404">7</text><text class="p" transform="translate(1098 1443) rotate(-90)">4</text><text class="p" x="1102" y="1397">+</text><text class="p" x="1103" y="1425">-</text>
<text transform="translate(1166 1368) rotate(-90)">RI841</text><text transform="translate(1198 1376) rotate(-90)">2012F100KΩ</text>
<text x="1253" y="1349">RI843</text><text x="1253" y="1364">2012F10KΩ</text>
<text transform="translate(1169 1485) rotate(-90)">RI842</text><text transform="translate(1198 1504) rotate(-90)">2012F47KΩ</text>
<text transform="translate(1234 1486) rotate(-90)">RI844</text><text transform="translate(1262 1504) rotate(-90)">2012F100KΩ</text>
<text transform="translate(1116 1508) rotate(-90)">CI839</text><text transform="translate(1130 1523) rotate(-90)">50V104K</text>
<text transform="translate(1306 1485) rotate(-90)">CI840</text><text transform="translate(1320 1477) rotate(-90)">NC</text>
<text x="1324" y="1315">B</text><text class="x" x="1357" y="1315">x</text>
<text x="908" y="1343">FB</text><text class="x" x="944" y="1343">x</text>

<!-- red markers -->
<ellipse class="red" cx="323" cy="823" rx="50" ry="38"/>
<ellipse class="red" cx="1464" cy="147" rx="64" ry="55"/>
<ellipse class="red" cx="1871" cy="663" rx="48" ry="31"/>
<ellipse class="red" cx="2179" cy="902" rx="39" ry="39"/>
<ellipse class="red" cx="1871" cy="1199" rx="49" ry="39"/>
<ellipse class="red" cx="918" cy="1332" rx="49" ry="33"/>
<ellipse class="red" cx="1175.500" cy="1421" rx="11" ry="13"/>
<ellipse class="red" cx="1244" cy="1392.500" rx="11" ry="15"/>
<path class="arr" d="M380 1071L321 883M311 938L321 883 358 922M754 1194L847 1294M832 1242L847 1294 796 1276M980 1540L1039 1462M989 1485L1039 1462 1029 1517M1223 1535L1192 1430M1181.500 1483L1192 1430 1229 1469M1248 1189L1228 1353M1208 1301L1228 1353 1258.500 1308M1421 1406L1340 1331M1357 1384L1340 1331 1391 1345"/>

<!-- yellow call-outs -->
<rect class="y" x="724" y="61" width="664" height="148"/>
<text class="b" x="730" y="91" textLength="640" lengthAdjust="spacingAndGlyphs">LAMPS CURRENT SENSING FEEDBACK.</text>
<text class="b" x="730" y="131" textLength="571" lengthAdjust="spacingAndGlyphs">NORMAL CONDITION WILL BE LESS</text>
<text class="b" x="730" y="171" textLength="616" lengthAdjust="spacingAndGlyphs">THAN 1VDC, FAULT WILL BE &gt;1.25VDC</text>

<rect class="y" x="1899" y="24" width="391" height="99"/>
<text class="b" x="1905" y="54" textLength="257" lengthAdjust="spacingAndGlyphs">TI803 CURRENT</text>
<text class="b" x="1905" y="94" textLength="324" lengthAdjust="spacingAndGlyphs">SENSING XFORMER</text>

<rect class="y" x="1190" y="1012" width="281" height="162"/>
<text class="b" x="1197" y="1043" textLength="251" lengthAdjust="spacingAndGlyphs">DC HERE MUST</text>
<text class="b" x="1197" y="1082" textLength="178" lengthAdjust="spacingAndGlyphs">BE HIGHER</text>
<text class="b" x="1197" y="1122" textLength="239" lengthAdjust="spacingAndGlyphs">THAN 1.63V TO</text>
<text class="b" x="1197" y="1163" textLength="245" lengthAdjust="spacingAndGlyphs">KEEP QI814 ON</text>

<rect class="y" x="363" y="1089" width="484" height="86"/>
<text class="b" x="368" y="1120" textLength="447" lengthAdjust="spacingAndGlyphs">IF DRAIN (FB) GOES HI, THE</text>
<text class="b" x="368" y="1161" textLength="414" lengthAdjust="spacingAndGlyphs">PWM IC WILL SHUTDOWN</text>

<rect class="y" x="759" y="1549" width="257" height="55"/>
<text class="b" x="764" y="1579" textLength="235" lengthAdjust="spacingAndGlyphs">COMPARATOR</text>

<rect class="y" x="1112" y="1555" width="266" height="47"/>
<text class="b" x="1118" y="1585" textLength="234" lengthAdjust="spacingAndGlyphs">REF V IS 1.63V</text>

<rect class="y" x="1450" y="1338" width="581" height="243"/>
<text class="b" x="1456" y="1368" textLength="359" lengthAdjust="spacingAndGlyphs">OPEN LAMP SENSING.</text>
<text class="b" x="1456" y="1407" textLength="502" lengthAdjust="spacingAndGlyphs">MUST BE AT LEAST 2VDC (FOR</text>
<text class="b" x="1456" y="1448" textLength="569" lengthAdjust="spacingAndGlyphs">THE COMPARATOR OUTPUT TO BE</text>
<text class="b" x="1456" y="1488" textLength="496" lengthAdjust="spacingAndGlyphs">HI TO KEEP QI814 ON) HERE IF</text>
<text class="b" x="1456" y="1528" textLength="508" lengthAdjust="spacingAndGlyphs">THE LAMPS ARE CONDUCTING.</text>
</svg>
</body></html>
